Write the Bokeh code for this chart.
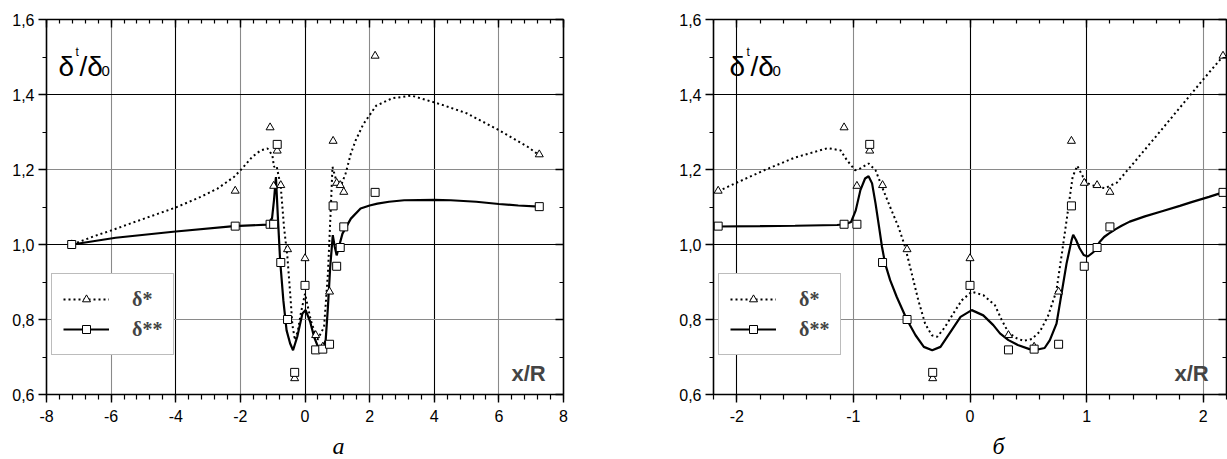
import numpy as np
from bokeh.plotting import figure
from bokeh.models import (LinearAxis, FixedTicker, Grid, Legend, LegendItem, Label, Title,
                          CustomJSTickFormatter, Range1d)
from bokeh.layouts import row
from bokeh.embed import file_html
from bokeh.resources import INLINE

# ---------------- data ----------------
marker_x = [-7.22, -2.16, -1.08, -0.97, -0.86, -0.75, -0.54, -0.32, 0.0, 0.33, 0.55,
            0.76, 0.87, 0.98, 1.09, 1.20, 2.17, 7.25]
delta1_pts = [1.00, 1.143, 1.312, 1.156, 1.250, 1.158, 0.987, 0.643, 0.963, 0.758, 0.727,
              0.874, 1.276, 1.164, 1.158, 1.140, 1.503, 1.240]
delta2_pts = [1.00, 1.049, 1.054, 1.054, 1.267, 0.952, 0.800, 0.659, 0.891, 0.719, 0.721,
              0.734, 1.103, 0.942, 0.992, 1.047, 1.139, 1.101]

# fitted curves, panel "a"
a_dot_x = [-7.20, -6.53, -5.98, -5.50, -4.88, -3.99, -3.23, -2.71, -2.20, -1.94, -1.63,
           -1.37, -1.16, -1.01, -0.96, -0.88, -0.75, -0.65, -0.545, -0.45, -0.39, -0.31,
           -0.22, -0.13, 0.0, 0.18, 0.38, 0.59, 0.71, 0.80, 0.85, 0.98, 1.10, 1.26, 1.42,
           1.57, 1.80, 2.20, 2.70, 3.30, 4.23, 5.00, 6.00, 6.90, 7.25]
a_dot_y = [1.000, 1.022, 1.038, 1.053, 1.072, 1.099, 1.127, 1.149, 1.180, 1.203, 1.234,
           1.251, 1.256, 1.238, 1.207, 1.210, 1.154, 1.047, 0.967, 0.860, 0.785, 0.745,
           0.770, 0.816, 0.869, 0.798, 0.745, 0.780, 0.923, 1.100, 1.207, 1.167, 1.154,
           1.190, 1.243, 1.278, 1.320, 1.370, 1.390, 1.397, 1.373, 1.350, 1.305, 1.260,
           1.238]
a_sol_x = [-7.20, -5.86, -4.08, -2.20, -1.16, -1.02, -0.96, -0.90, -0.84, -0.77, -0.67,
           -0.57, -0.46, -0.37, -0.24, -0.08, 0.02, 0.16, 0.28, 0.42, 0.54, 0.64, 0.71,
           0.78, 0.86, 0.92, 0.98, 1.05, 1.16, 1.42, 1.72, 2.00, 2.24, 2.60, 3.07, 4.00,
           4.51, 5.30, 6.00, 6.60, 7.25]
a_sol_y = [1.000, 1.018, 1.034, 1.049, 1.053, 1.070, 1.118, 1.180, 1.074, 0.958, 0.851,
           0.771, 0.736, 0.718, 0.754, 0.816, 0.825, 0.794, 0.754, 0.723, 0.723, 0.745,
           0.834, 0.940, 1.025, 0.994, 0.971, 0.994, 1.029, 1.069, 1.096, 1.104, 1.109,
           1.114, 1.118, 1.119, 1.118, 1.114, 1.108, 1.104, 1.101]

# fitted curves, panel "б"
b_dot_x = [-2.16, -2.0, -1.75, -1.5, -1.22, -1.11, -1.056, -0.985, -0.94, -0.87, -0.81,
           -0.755, -0.685, -0.614, -0.557, -0.50, -0.443, -0.385, -0.328, -0.28, -0.214,
           -0.143, -0.071, 0.015, 0.114, 0.214, 0.27, 0.33, 0.40, 0.46, 0.53, 0.60, 0.67,
           0.74, 0.79, 0.84, 0.88, 0.92, 0.97, 1.01, 1.06, 1.11, 1.16, 1.21, 1.26, 1.40,
           1.60, 1.80, 2.00, 2.17]
b_dot_y = [1.142, 1.165, 1.200, 1.232, 1.257, 1.251, 1.225, 1.198, 1.203, 1.216, 1.198,
           1.154, 1.100, 1.047, 0.994, 0.923, 0.851, 0.789, 0.758, 0.754, 0.780, 0.816,
           0.851, 0.874, 0.865, 0.838, 0.800, 0.765, 0.750, 0.743, 0.748, 0.768, 0.810,
           0.875, 0.980, 1.090, 1.180, 1.210, 1.180, 1.163, 1.157, 1.153, 1.150, 1.158,
           1.165, 1.216, 1.290, 1.365, 1.440, 1.502]
b_sol_x = [-2.16, -1.8, -1.5, -1.14, -1.07, -1.02, -0.98, -0.94, -0.90, -0.87, -0.84,
           -0.81, -0.78, -0.755, -0.728, -0.685, -0.628, -0.542, -0.467, -0.396, -0.324,
           -0.253, -0.167, -0.081, 0.015, 0.114, 0.20, 0.257, 0.33, 0.41, 0.51, 0.58, 0.64,
           0.685, 0.742, 0.785, 0.828, 0.871, 0.885, 0.91, 0.94, 0.975, 1.01, 1.06, 1.11,
           1.15, 1.19, 1.25, 1.30, 1.37, 1.50, 1.64, 1.80, 1.90, 2.05, 2.17]
b_sol_y = [1.048, 1.049, 1.050, 1.052, 1.054, 1.060, 1.091, 1.145, 1.176, 1.182, 1.163,
           1.109, 1.047, 0.994, 0.949, 0.905, 0.860, 0.800, 0.758, 0.727, 0.718, 0.727,
           0.767, 0.807, 0.825, 0.811, 0.785, 0.763, 0.745, 0.732, 0.721, 0.720, 0.724,
           0.745, 0.789, 0.869, 0.949, 1.011, 1.026, 1.012, 0.990, 0.972, 0.968, 0.980,
           1.006, 1.020, 1.029, 1.041, 1.050, 1.061, 1.075, 1.088, 1.103, 1.113, 1.127,
           1.139]

y_ticks = [0.6, 0.8, 1.0, 1.2, 1.4, 1.6]
a_x_ticks = [-8, -6, -4, -2, 0, 2, 4, 6, 8]
b_x_ticks = [-2, -1, 0, 1, 2]

FONT = "Liberation Sans"
SERIF = "Liberation Serif"


def style_axis(ax, tick_in, tick_out, minor_in, minor_out, labels=True):
    ax.axis_line_width = 1.6
    ax.axis_line_color = "black"
    ax.major_tick_line_width = 1.4
    ax.minor_tick_line_width = 1.2
    ax.major_tick_line_color = "black"
    ax.minor_tick_line_color = "black"
    ax.major_tick_in = tick_in
    ax.major_tick_out = tick_out
    ax.minor_tick_in = minor_in
    ax.minor_tick_out = minor_out
    if labels:
        ax.major_label_text_font = FONT
        ax.major_label_text_font_size = "16px"
        ax.major_label_text_color = "black"
    else:
        ax.major_label_standoff = 0


def make_panel(xr, x_ticks, x_minor, x_black, x_gray, dot_x, dot_y, sol_x, sol_y,
               frame_w, border_l, border_r, label_dx, panel_text, panel_off):
    p = figure(frame_width=frame_w, frame_height=375, min_border_left=border_l,
               min_border_right=border_r, min_border_top=19, min_border_bottom=65,
               x_range=Range1d(*xr), y_range=Range1d(0.6, 1.6),
               output_backend="svg", toolbar_location=None,
               x_axis_type=None, y_axis_type=None)
    p.outline_line_color = None
    p.background_fill_color = "white"
    p.border_fill_color = "white"

    xt = FixedTicker(ticks=x_ticks, minor_ticks=list(x_minor))
    yt = FixedTicker(ticks=y_ticks, minor_ticks=[round(v, 2) for v in np.arange(0.6, 1.61, 0.1)])
    yfmt = CustomJSTickFormatter(code="return tick.toFixed(1).replace('.', ',');")
    xfmt = CustomJSTickFormatter(code="return Number(tick.toFixed(1)).toString();")
    blank = CustomJSTickFormatter(code="return '';")

    bottom = LinearAxis(ticker=xt, formatter=xfmt)
    style_axis(bottom, 0, 8, 0, 5)
    bottom.major_label_standoff = 7
    left = LinearAxis(ticker=yt, formatter=yfmt)
    style_axis(left, 0, 8, 0, 4)
    left.major_label_standoff = 4
    top = LinearAxis(ticker=xt, formatter=blank)
    style_axis(top, 8, 0, 4, 0, labels=False)
    right = LinearAxis(ticker=yt, formatter=blank)
    style_axis(right, 8, 0, 4, 0, labels=False)
    p.add_layout(bottom, "below")
    p.add_layout(left, "left")
    p.add_layout(top, "above")
    p.add_layout(right, "right")

    # panel letter under the axis
    p.add_layout(Title(text=panel_text, align="left", offset=panel_off,
                       text_font=SERIF, text_font_style="italic",
                       text_font_size="24px", text_color="black", standoff=13), "below")

    # grids (alternating dark / grey as in the scan)
    for ticks, col in ((x_black, "black"), (x_gray, "#8a8a8a")):
        g = Grid(dimension=0, ticker=FixedTicker(ticks=ticks), grid_line_color=col,
                 grid_line_width=1.1)
        p.add_layout(g, "center")
    for ticks, col in (([1.0, 1.4], "black"), ([0.8, 1.2], "#8a8a8a")):
        g = Grid(dimension=1, ticker=FixedTicker(ticks=ticks), grid_line_color=col,
                 grid_line_width=1.1)
        p.add_layout(g, "center")

    dot_r = p.line(dot_x, dot_y, line_color="black", line_width=2.0, line_dash="2 3")
    sol_r = p.line(sol_x, sol_y, line_color="black", line_width=2.2)
    tri_r = p.scatter(marker_x, delta1_pts, marker="triangle", size=8, fill_color="white",
                      line_color="black", line_width=1)
    sq_r = p.scatter(marker_x, delta2_pts, marker="square", size=8, fill_color="white",
                     line_color="black", line_width=1)

    legend = Legend(items=[LegendItem(label="δ*", renderers=[dot_r, tri_r]),
                           LegendItem(label="δ**", renderers=[sol_r, sq_r])],
                    location=(5, 39), padding=11, spacing=2, label_height=28,
                    glyph_width=46, glyph_height=20, label_standoff=23, margin=0,
                    border_line_color="#7a7a7a", border_line_width=1.5,
                    background_fill_color="white", background_fill_alpha=1,
                    label_text_font=SERIF, label_text_font_style="bold",
                    label_text_font_size="20px")
    p.add_layout(legend, "center")

    # y-axis title written inside the frame
    for txt, dx, dy, fs in (("δ", 0, 328, "28px"), ("t", 17, 343, "12px"),
                            ("/δ", 21, 328, "28px"), ("0", 43, 324, "15px")):
        p.add_layout(Label(x=label_dx + dx, y=dy, x_units="screen", y_units="screen",
                           text=txt, text_font=FONT, text_font_size=fs,
                           text_color="black", text_baseline="alphabetic"))
    p.add_layout(Label(x=frame_w - 52, y=21, x_units="screen", y_units="screen",
                       text="x/R", text_font=FONT, text_font_style="bold",
                       text_font_size="22px", text_baseline="middle"))
    return p


p1 = make_panel((-8, 8), a_x_ticks, [round(v, 2) for v in np.arange(-8, 8.01, 0.4)],
                [-4, 0, 4], [-6, -2, 2, 6], a_dot_x, a_dot_y, a_sol_x, a_sol_y,
                517, 46, 97, 12, "a", 286)
p2 = make_panel((-2.2, 2.2), b_x_ticks, [round(v, 2) for v in np.arange(-2.2, 2.21, 0.2)],
                [-2, 0, 1], [-1, 2], b_dot_x, b_dot_y, b_sol_x, b_sol_y,
                513, 53, 1, 16, "б", 279)

layout = row(p1, p2)
open("out.html", "w").write(file_html(layout, INLINE))
